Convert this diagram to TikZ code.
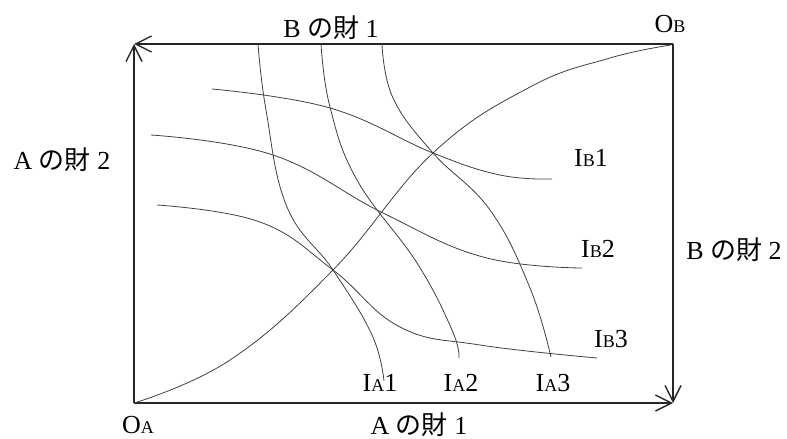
\documentclass[tikz,border=0pt]{standalone}
\usepackage{fontspec}
\setmainfont{Liberation Serif}
\newfontfamily\cjk{Noto Sans CJK JP}
\usetikzlibrary{positioning,arrows.meta}
\newcommand{\smallidx}[1]{{\fontsize{18}{20}\selectfont #1}}

\begin{document}
\begin{tikzpicture}[
    x=1pt, y=-1pt,
    axis/.style={-{Straight Barb[length=16pt,width=16pt]}, line width=1.4pt, draw=black!85},
    curve/.style={line width=0.8pt, draw=black!75},
    lbl/.style={inner sep=0pt, font=\fontsize{26}{28}\selectfont}
]
    \useasboundingbox (0,0) rectangle (787,439);

    % Box corners
    \coordinate (oa) at (134,403);
    \coordinate (ob) at (673,44);
    \coordinate (tl) at (134,44);
    \coordinate (br) at (673,403);

    % Axes of A and B
    \draw[axis] (oa) -- (tl);
    \draw[axis] (oa) -- (br);
    \draw[axis] (ob) -- (tl);
    \draw[axis] (ob) -- (br);

    % Contract curve
    \draw[curve] plot[smooth, tension=0.7] coordinates {(134,403) (230,360) (333,270) (433,153) (530,87) (610,58) (671,45)};

    % Indifference curves of A
    \draw[curve] plot[smooth, tension=0.7] coordinates {(258,44) (266,110) (287,207) (333,270) (372,335) (384,381)};
    \draw[curve] plot[smooth, tension=0.7] coordinates {(321,44) (330,107) (357,180) (417,263) (452,330) (459,358)};
    \draw[curve] plot[smooth, tension=0.7] coordinates {(382,44) (393,98) (433,153) (490,210) (530,288) (551,357)};

    % Indifference curves of B
    \draw[curve] plot[smooth, tension=0.7] coordinates {(212,89) (330,108) (433,153) (500,175) (552,179)};
    \draw[curve] plot[smooth, tension=0.7] coordinates {(151,135) (273,155) (383,213) (483,257) (582,268)};
    \draw[curve] plot[smooth, tension=0.7] coordinates {(157,205) (260,222) (333,270) (400,327) (480,345) (597,358)};

    % Labels
    \node[lbl] (goodb1) at (331,28) {B {\cjk の財} 1};
    \node[lbl] (gooda2) at (62,160) {A {\cjk の財} 2};
    \node[lbl] (goodb2) at (734,250) {B {\cjk の財} 2};
    \node[lbl] (gooda1) at (419,425) {A {\cjk の財} 1};
    \node[lbl] (oalab) at (138,425) {O\smallidx{A}};
    \node[lbl] (oblab) at (670,24) {O\smallidx{B}};

    \node[lbl] (ib1) at (591,158) {I\smallidx{B}1};
    \node[lbl] (ib2) at (598,249) {I\smallidx{B}2};
    \node[lbl] (ib3) at (611,339) {I\smallidx{B}3};
    \node[lbl] (ia1) at (380,383) {I\smallidx{A}1};
    \node[lbl] (ia2) at (461,383) {I\smallidx{A}2};
    \node[lbl] (ia3) at (553,383) {I\smallidx{A}3};
\end{tikzpicture}
\end{document}
